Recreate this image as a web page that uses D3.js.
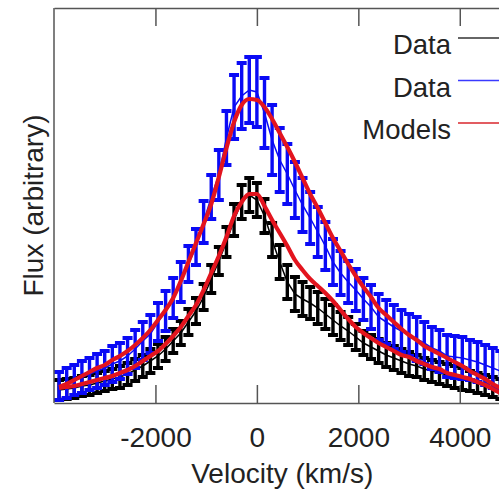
<!DOCTYPE html>
<html>
<head>
<meta charset="utf-8">
<script src="https://cdn.jsdelivr.net/npm/d3@7"></script>
<style>
  body { margin: 0; background: #fff; }
  svg { display: block; }
  text { font-family: "Liberation Sans", Arial, sans-serif; fill: #222; }
</style>
</head>
<body>
<script>
// velocity grid (km/s)
var velocity = [-3900, -3750, -3600, -3450, -3300, -3150, -3000, -2850, -2700, -2550,
  -2400, -2250, -2100, -1950, -1800, -1650, -1500, -1350, -1200, -1050,
  -900, -750, -600, -450, -300, -150, 0, 150, 300, 450,
  600, 750, 900, 1050, 1200, 1350, 1500, 1650, 1800, 1950,
  2100, 2250, 2400, 2550, 2700, 2850, 3000, 3150, 3300, 3450,
  3600, 3750, 3900, 4050, 4200, 4350, 4500, 4650, 4800];

// black data (flux + half error)
var blackFlux = [13, 14, 15, 17, 18, 20, 22, 24, 26, 29,
  33, 37, 42, 47, 54, 62, 70, 81, 92, 106,
  124, 142, 161, 183, 201, 208, 203, 187, 163, 141,
  121, 109, 104, 100, 95, 89, 83, 77, 72, 66,
  60, 56, 52, 48, 45, 42, 39, 37, 34, 32,
  30, 28, 26, 24, 22, 20, 18, 16, 14];
var blackErr = [10, 10, 10, 10, 10, 10, 10, 10, 11, 11,
  11, 11, 12, 12, 12, 12, 12, 13, 13, 13,
  14, 14, 15, 16, 17, 17, 17, 17, 17, 17,
  17, 17, 17, 16, 16, 15, 15, 14, 14, 13,
  12, 12, 12, 12, 12, 12, 12, 11, 11, 11,
  11, 11, 11, 11, 10, 10, 10, 10, 10];

// blue data
var blueFlux = [17, 20, 23, 26, 29, 32, 35, 39, 42, 47,
  54, 62, 69, 81, 92, 105, 121, 139, 156, 181,
  206, 228, 265, 296, 307, 313, 311, 290, 263, 243,
  229, 213, 198, 185, 171, 157, 141, 130, 121, 113,
  104, 96, 86, 81, 76, 72, 68, 64, 60, 55,
  52, 47, 46, 45, 43, 41, 38, 35, 32];
var blueErr = [14, 15, 15, 16, 16, 17, 17, 18, 18, 18,
  19, 19, 19, 19, 20, 20, 20, 18, 18, 21,
  22, 25, 27, 32, 33, 33, 35, 35, 35, 32,
  30, 28, 27, 26, 25, 24, 23, 22, 21, 21,
  21, 22, 23, 22, 22, 21, 21, 22, 21, 21,
  21, 21, 21, 21, 20, 20, 20, 20, 20];

// models
var modelBlue = [16, 19, 23, 27, 31, 35, 38, 43, 47, 52,
  58, 65, 73, 83, 93, 105, 122, 141, 160, 179,
  199, 226, 255, 281, 298, 304, 303, 296, 284, 270,
  256, 241, 225, 209, 195, 180, 165, 152, 139, 127,
  116, 106, 95, 88, 81, 74, 68, 63, 57, 53,
  49, 45, 41, 37, 32, 28, 24, 19, 15];
var modelBlack = [15, 16, 17, 19, 21, 23, 25, 27, 30, 33,
  37, 42, 47, 52, 59, 67, 76, 87, 98, 113,
  130, 147, 166, 187, 201, 209, 209, 197, 183, 170,
  157, 143, 133, 124, 117, 110, 102, 93, 84, 76,
  70, 65, 60, 56, 52, 48, 46, 42, 39, 36,
  34, 30, 28, 26, 24, 21, 18, 14, 10];

var xTicks = [-2000, 0, 2000, 4000];
var legendNames = ["Data", "Data", "Models"];
var legendColors = ["#333", "#3a3aff", "#d8262c"];

var W = 499, H = 489;
var plot = { left: 54, top: 8, bottom: 403, right: 510.5 };

var svg = d3.select("body").append("svg")
    .attr("width", W)
    .attr("height", H);

var x = d3.scaleLinear().domain([-4000, 5000]).range([plot.left, plot.right]);
var y = d3.scaleLinear().domain([0, 395]).range([plot.bottom, plot.top]);

function drawSeries(flux, err, color) {
    var g = svg.append("g");
    var pts = velocity.map((v, i) => ({ v: v, f: flux[i], e: err[i] }));
    g.append("path")
        .datum(pts)
        .attr("fill", "none")
        .attr("stroke", color)
        .attr("stroke-width", 1.5)
        .attr("d", d3.line().x((d) => x(d.v)).y((d) => y(d.f)));
    var bars = g.selectAll("g.bar").data(pts).enter().append("g");
    bars.append("line")
        .attr("x1", (d) => x(d.v)).attr("x2", (d) => x(d.v))
        .attr("y1", (d) => y(d.f - d.e)).attr("y2", (d) => y(d.f + d.e))
        .attr("stroke", color).attr("stroke-width", 3.4);
    [-1, 1].forEach((s) => {
        bars.append("line")
            .attr("x1", (d) => x(d.v) - 5).attr("x2", (d) => x(d.v) + 5)
            .attr("y1", (d) => y(d.f + s * d.e)).attr("y2", (d) => y(d.f + s * d.e))
            .attr("stroke", color).attr("stroke-width", 4);
    });
}

drawSeries(blackFlux, blackErr, "#000");
drawSeries(blueFlux, blueErr, "#0a0af5");

[modelBlue, modelBlack].forEach((m) => {
    svg.append("path")
        .datum(velocity.map((v, i) => [v, m[i]]))
        .attr("fill", "none")
        .attr("stroke", "#e3141e")
        .attr("stroke-width", 4.2)
        .attr("d", d3.line().curve(d3.curveMonotoneX).x((d) => x(d[0])).y((d) => y(d[1])));
});

// axes
var bottomAxis = svg.append("g")
    .attr("transform", `translate(0, ${plot.bottom})`)
    .call(d3.axisBottom(x).tickValues(xTicks).tickSizeInner(-18).tickSizeOuter(0).tickPadding(24)
        .tickFormat((d) => d < 0 ? "-" + Math.abs(d) : d));
var topAxis = svg.append("g")
    .attr("transform", `translate(0, ${plot.top})`)
    .call(d3.axisTop(x).tickValues(xTicks).tickSizeInner(-18).tickSizeOuter(0).tickFormat(""));
topAxis.selectAll("text").remove();

[bottomAxis, topAxis].forEach((a) => {
    a.selectAll("path, line").attr("stroke", "#555").attr("stroke-width", 1.5);
});
bottomAxis.selectAll("text").attr("font-size", "28px").attr("fill", "#222")
    .attr("font-family", "Liberation Sans, Arial, sans-serif");

svg.append("line")
    .attr("x1", plot.left).attr("x2", plot.left)
    .attr("y1", plot.top).attr("y2", plot.bottom)
    .attr("stroke", "#555").attr("stroke-width", 1.5);

svg.append("text")
    .attr("x", (plot.left + plot.right) / 2)
    .attr("y", 483)
    .attr("text-anchor", "middle")
    .attr("font-size", "28px")
    .text("Velocity (km/s)");

svg.append("text")
    .attr("transform", `translate(43, ${(plot.top + plot.bottom) / 2}) rotate(-90)`)
    .attr("text-anchor", "middle")
    .attr("font-size", "28px")
    .text("Flux (arbitrary)");

// legend
var legend = svg.append("g");
legendNames.forEach((name, i) => {
    var ly = 54 + i * 42.5;
    legend.append("text")
        .attr("x", 451).attr("y", ly)
        .attr("text-anchor", "end")
        .attr("font-size", "27.5px")
        .text(name);
    legend.append("line")
        .attr("x1", 458).attr("x2", 510)
        .attr("y1", ly - 16).attr("y2", ly - 16)
        .attr("stroke", legendColors[i])
        .attr("stroke-width", 1.5);
});
</script>
</body>
</html>
